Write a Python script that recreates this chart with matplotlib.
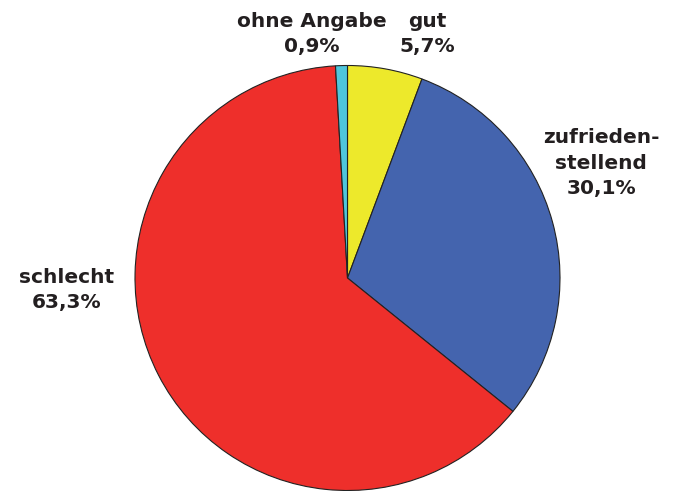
import matplotlib.pyplot as plt

# Anteile im Uhrzeigersinn ab 12 Uhr
kategorien = ["gut", "zufrieden-\nstellend", "schlecht", "ohne Angabe"]
anteile = [5.7, 30.1, 63.3, 0.9]
farben = ["#ede92b", "#4464ae", "#ee2f2b", "#4fc6dc"]

# Label-Positionen in Pixeln (x, y von oben)
label_pos = [(427, 34), (601, 163), (67, 290), (312, 34)]

fig = plt.figure(figsize=(6.81, 4.91), dpi=100)
ax = fig.add_axes([0, 0, 1, 1])
ax.axis("off")

ax.pie(anteile, colors=farben, startangle=90, counterclock=False,
       center=(347.5, 491 - 278), radius=212.5,
       wedgeprops=dict(edgecolor="#222222", linewidth=0.8))
ax.set_aspect("equal")
ax.set_xlim(0, 681)
ax.set_ylim(0, 491)

for name, wert, (x, y) in zip(kategorien, anteile, label_pos):
    txt = name + "\n" + f"{wert:.1f}".replace(".", ",") + "%"
    ax.text(x, 491 - y, txt, ha="center", va="center", fontsize=14.5,
            fontweight="bold", color="#231f20", family="DejaVu Sans",
            linespacing=1.42)

fig.savefig("out.png", dpi=100)
